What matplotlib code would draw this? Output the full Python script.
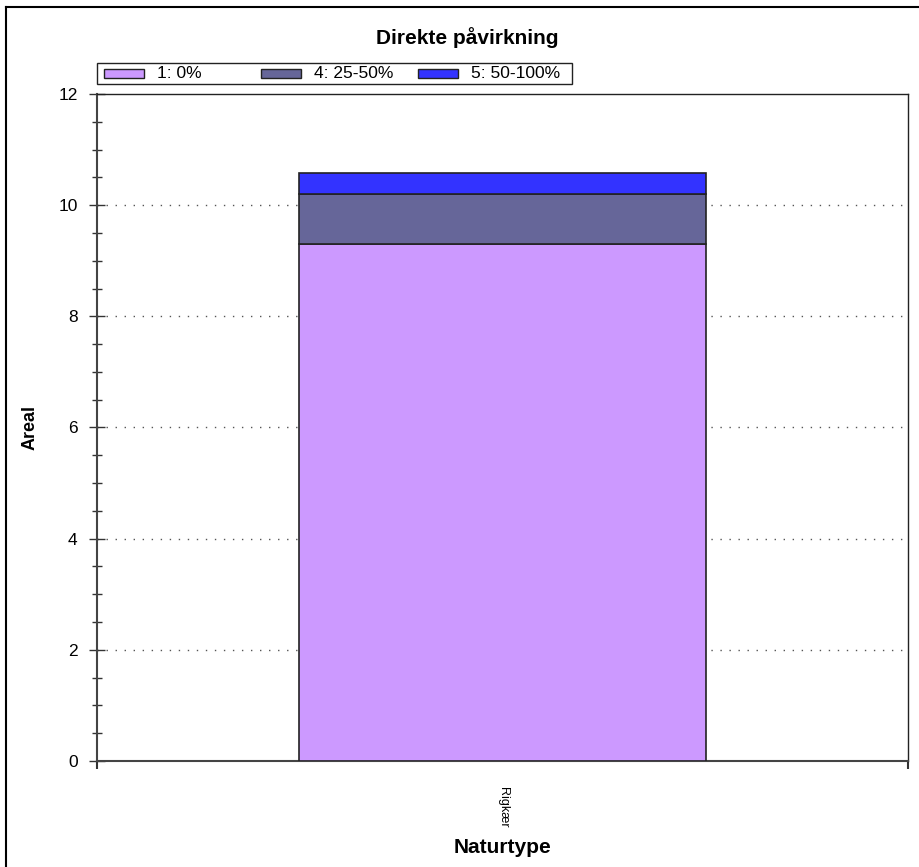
import matplotlib
matplotlib.use("Agg")
import matplotlib.pyplot as plt
from matplotlib.lines import Line2D
from matplotlib.patches import Rectangle
from matplotlib.ticker import MultipleLocator

plt.rcParams['font.family'] = ['Liberation Sans', 'DejaVu Sans']

# data
categories = ["Rigkær"]
series_labels = ["1: 0%", "4: 25-50%", "5: 50-100%"]
series_values = [[9.3], [0.9], [0.38]]
series_colors = ["#cc99ff", "#666699", "#3333ff"]

fig = plt.figure(figsize=(9.19, 8.67), dpi=100)
ax = fig.add_axes([97 / 919, 1 - 761 / 867, 811 / 919, 667 / 867])

# stacked bars
bottom = [0.0] * len(categories)
xs = list(range(len(categories)))
for vals, col in zip(series_values, series_colors):
    ax.bar(xs, vals, width=0.502, bottom=bottom, color=col,
           edgecolor="#222222", linewidth=1.2, zorder=3)
    bottom = [b + v for b, v in zip(bottom, vals)]

ax.set_xlim(-0.5, len(categories) - 0.5)
ax.set_ylim(0, 12)

# y axis
ax.yaxis.set_major_locator(MultipleLocator(2))
ax.yaxis.set_minor_locator(MultipleLocator(0.5))
ax.tick_params(axis="y", which="major", direction="inout", length=12,
               width=1, color="#333333", labelsize=12.5, pad=8)
ax.tick_params(axis="y", which="minor", direction="inout", length=7,
               width=1, color="#333333")
for y in range(2, 12, 2):
    ax.axhline(y, color="#555555", linestyle=(0, (1, 5.5)), linewidth=1,
               zorder=1)

# x axis: ticks at category boundaries, label in centre
ax.set_xticks([i - 0.5 for i in range(len(categories) + 1)])
ax.set_xticklabels([])
ax.tick_params(axis="x", which="major", direction="out", length=6,
               width=1.5, color="#333333")
ax.set_xticks(xs, minor=True)
ax.set_xticklabels(categories, minor=True, rotation=-90, fontsize=9)
ax.tick_params(axis="x", which="minor", length=0, pad=19)

for s in ["left", "bottom"]:
    ax.spines[s].set_color("#444444")
    ax.spines[s].set_linewidth(1.5)
for s in ["top", "right"]:
    ax.spines[s].set_color("#222222")
    ax.spines[s].set_linewidth(1)

ax.set_ylabel("Areal", fontsize=13, fontweight="bold", labelpad=14)
ax.set_xlabel("Naturtype", fontsize=15, fontweight="bold", labelpad=7)
fig.text(0.508, 1 - 38 / 867, "Direkte påvirkning", ha="center",
         va="center", fontsize=15, fontweight="bold")

# legend box drawn by hand to keep equal column spacing
W, H = 919, 867
fig.add_artist(Rectangle((97 / W, 1 - 84 / H), 475 / W, 21 / H,
                         transform=fig.transFigure, facecolor="white",
                         edgecolor="#222222", linewidth=1))
col_x = [104, 261, 418]
for cx, lab, col in zip(col_x, series_labels, series_colors):
    fig.add_artist(Rectangle((cx / W, 1 - 78 / H), 40 / W, 9 / H,
                             transform=fig.transFigure, facecolor=col,
                             edgecolor="#222222", linewidth=1))
    fig.text((cx + 53) / W, 1 - 73.5 / H, lab, fontsize=12.5, va="center",
             ha="left")

# outer frame (left and top only visible)
fig.add_artist(Line2D([6 / W, 6 / W], [0, 1 - 7 / H], color="black",
                      linewidth=1.5, transform=fig.transFigure))
fig.add_artist(Line2D([6 / W, 1], [1 - 7 / H, 1 - 7 / H], color="black",
                      linewidth=1.5, transform=fig.transFigure))

fig.savefig("out.png", dpi=100)
